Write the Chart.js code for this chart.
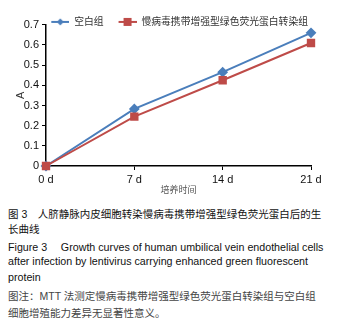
<!DOCTYPE html>
<html>
<head>
<meta charset="utf-8">
<script src="https://cdn.jsdelivr.net/npm/chart.js@4.4.0/dist/chart.umd.min.js"></script>
<style>
  body { margin: 0; background: #fff; width: 353px; height: 325px; overflow: hidden; position: relative; }
  #wrap { position: absolute; left: 0; top: 2px; width: 353px; height: 196px; }
  .cap { position: absolute; left: 8px; white-space: nowrap; font-family: "Liberation Sans", Arial, "Noto Sans CJK SC", sans-serif; font-size: 10.7px; color: #111; }
  .zh { font-size: 10.5px; }
  .note { color: #444; }
</style>
</head>
<body>
<div id="wrap"><canvas id="growthChart"></canvas></div>
<div class="cap zh" style="top:206px;">图 3　人脐静脉内皮细胞转染慢病毒携带增强型绿色荧光蛋白后的生</div>
<div class="cap zh" style="top:221px;">长曲线</div>
<div class="cap" style="top:239px;">Figure 3　 Growth curves of human umbilical vein endothelial cells</div>
<div class="cap" style="top:255px;">after infection by lentivirus carrying enhanced green fluorescent</div>
<div class="cap" style="top:271px;">protein</div>
<div class="cap zh note" style="top:288px;">图注：MTT 法测定慢病毒携带增强型绿色荧光蛋白转染组与空白组</div>
<div class="cap zh note" style="top:305px;">细胞增殖能力差异无显著性意义。</div>
<script>
const days = ['0 d', '7 d', '14 d', '21 d'];
const blankGroup = [0, 0.283, 0.465, 0.66];
const egfpGroup = [0, 0.245, 0.425, 0.61];
const yTicks = [0, 0.1, 0.2, 0.3, 0.4, 0.5, 0.6, 0.7];

const BLUE = '#4a7ebb';
const RED = '#be4b48';

// line + marker swatch for the legend; the blank left part makes the gap between items
function swatch(color, shape) {
    const c = document.createElement('canvas');
    c.width = 30; c.height = 10;
    const g = c.getContext('2d');
    g.strokeStyle = color; g.lineWidth = 2;
    g.beginPath(); g.moveTo(12, 5); g.lineTo(30, 5); g.stroke();
    g.fillStyle = color;
    if (shape === 'diamond') {
        g.beginPath(); g.moveTo(21, 1.5); g.lineTo(24.5, 5); g.lineTo(21, 8.5); g.lineTo(17.5, 5); g.closePath(); g.fill();
    } else {
        g.fillRect(17, 1, 8, 8);
    }
    return c;
}

// push the legend down so it sits just above the top of the axis, as in the original
const legendNudge = {
    id: 'legendNudge',
    afterLayout(chart) {
        chart.legend.top += 12;
        chart.legend.bottom += 12;
    }
};

document.addEventListener('DOMContentLoaded', () => {
    const ctx = document.getElementById('growthChart').getContext('2d');
    const font = { family: '"Liberation Sans", Arial, "Noto Sans CJK SC", sans-serif', size: 11 };
    new Chart(ctx, {
        type: 'line',
        data: {
            labels: days,
            datasets: [{
                label: '空白组',
                data: blankGroup,
                borderColor: BLUE,
                backgroundColor: BLUE,
                borderWidth: 2,
                pointStyle: 'rectRot',
                pointRadius: 4,
                order: 1,
                clip: false
            }, {
                label: '慢病毒携带增强型绿色荧光蛋白转染组',
                data: egfpGroup,
                borderColor: RED,
                backgroundColor: RED,
                borderWidth: 2,
                pointStyle: 'rect',
                pointRadius: 4.5,
                order: 0,
                clip: false
            }]
        },
        plugins: [legendNudge],
        options: {
            responsive: true,
            maintainAspectRatio: false,
            animation: false,
            layout: { padding: { left: 0, right: 42, top: 0, bottom: 2 } },
            plugins: {
                tooltip: { enabled: false },
                legend: {
                    position: 'top',
                    align: 'end',
                    labels: {
                        font: { family: font.family, size: 9.8 },
                        color: '#333',
                        usePointStyle: true,
                        pointStyleWidth: 30,
                        boxHeight: 10,
                        padding: 3,
                        generateLabels: (chart) => chart.data.datasets.map((ds, i) => ({
                            text: ds.label,
                            pointStyle: swatch(ds.borderColor, i === 0 ? 'diamond' : 'square'),
                            fillStyle: ds.borderColor,
                            strokeStyle: ds.borderColor,
                            lineWidth: 0,
                            fontColor: '#333',
                            datasetIndex: i
                        }))
                    }
                }
            },
            scales: {
                x: {
                    offset: false,
                    afterFit: (scale) => { scale.height = 30; },
                    grid: { drawOnChartArea: false, drawTicks: true, tickLength: 4, color: '#000' },
                    border: { color: '#000', width: 1.5 },
                    ticks: { color: '#111', font: font, padding: 3, maxRotation: 0 },
                    title: { display: true, text: '培养时间', color: '#555', font: { family: font.family, size: 9 }, padding: { top: 0, bottom: 0 } }
                },
                y: {
                    min: 0,
                    max: 0.7,
                    afterBuildTicks: (scale) => { scale.ticks = yTicks.map(v => ({ value: v })); },
                    afterFit: (scale) => { scale.width = 46; },
                    grid: { drawOnChartArea: false, drawTicks: true, tickLength: 4, color: '#000' },
                    border: { color: '#000', width: 1.5 },
                    ticks: { color: '#111', font: font, padding: 3, autoSkip: false, callback: (v) => String(Math.round(v * 10) / 10) },
                    title: { display: true, text: 'A', color: '#333', font: font, padding: { top: 14, bottom: 0 } }
                }
            }
        }
    });
});
</script>
</body>
</html>
